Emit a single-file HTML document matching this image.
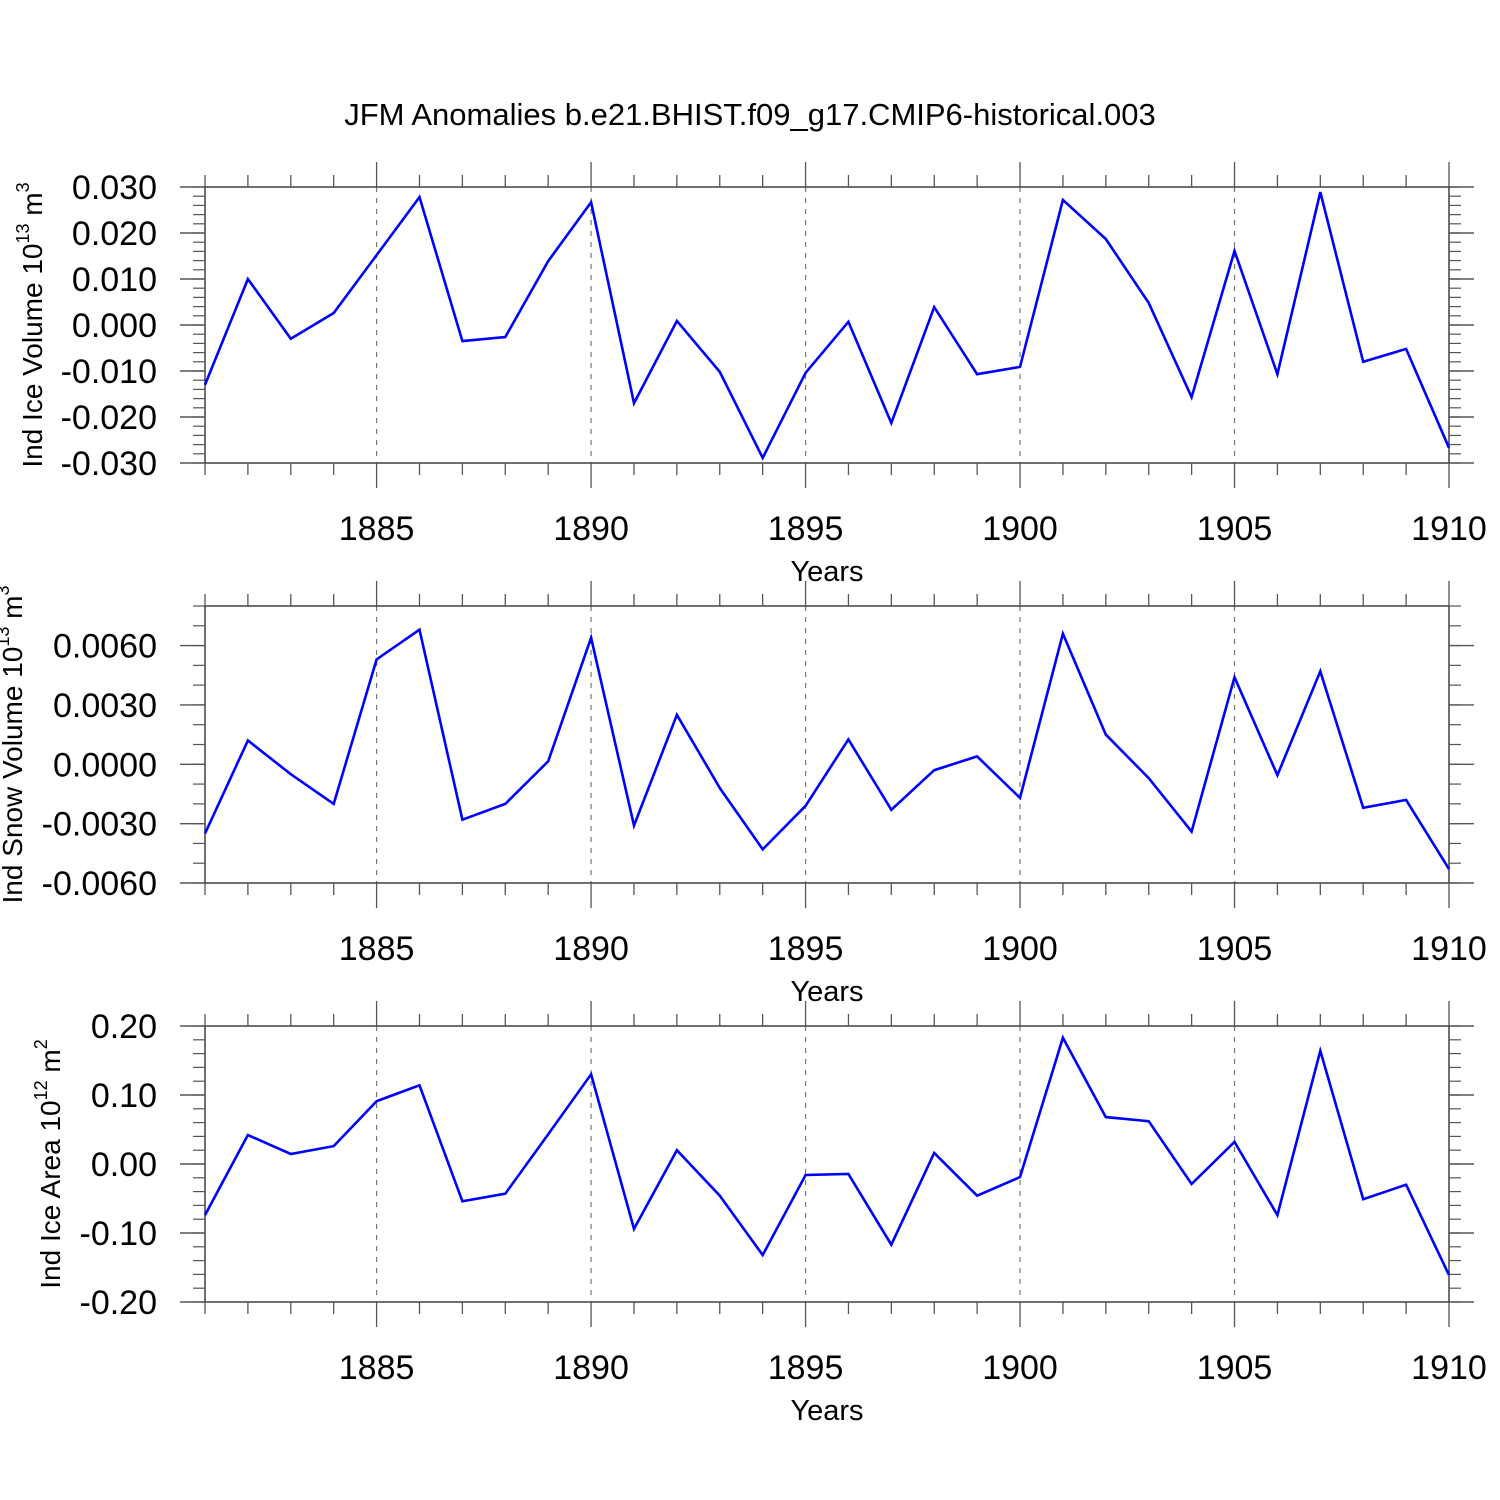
<!DOCTYPE html>
<html><head><meta charset="utf-8"><style>
html,body{margin:0;padding:0;background:#fff;}
svg{display:block;font-family:"Liberation Sans",Arial,sans-serif;}
</style></head><body>
<svg id="chart" width="1500" height="1500" viewBox="0 0 1500 1500" xmlns="http://www.w3.org/2000/svg">
<rect width="1500" height="1500" fill="#fff"/>
<text x="750" y="125" font-size="31" text-anchor="middle">JFM Anomalies b.e21.BHIST.f09_g17.CMIP6-historical.003</text>
</svg>
<script>
const years = [1881,1882,1883,1884,1885,1886,1887,1888,1889,1890,1891,1892,1893,1894,1895,1896,1897,1898,1899,1900,1901,1902,1903,1904,1905,1906,1907,1908,1909,1910];
const xTickLabels = ["1885","1890","1895","1900","1905","1910"];
const iceVolume = [-0.013,0.010,-0.003,0.0026,0.0152,0.0278,-0.0035,-0.0026,0.0139,0.0267,-0.017,0.0009,-0.0102,-0.0289,-0.0104,0.0007,-0.0213,0.0039,-0.0107,-0.0091,0.0272,0.0187,0.0048,-0.0157,0.0161,-0.0107,0.0289,-0.008,-0.0052,-0.0267];
const snowVolume = [-0.0035,0.0012,-0.0005,-0.002,0.0053,0.0068,-0.0028,-0.002,0.00015,0.0064,-0.0031,0.0025,-0.0012,-0.0043,-0.0021,0.00126,-0.0023,-0.0003,0.0004,-0.0017,0.0066,0.0015,-0.0007,-0.0034,0.0044,-0.00055,0.0047,-0.0022,-0.0018,-0.0053];
const iceArea = [-0.074,0.042,0.0145,0.026,0.091,0.114,-0.054,-0.043,0.043,0.130,-0.094,0.020,-0.046,-0.132,-0.016,-0.0145,-0.117,0.016,-0.046,-0.019,0.183,0.068,0.062,-0.029,0.032,-0.074,0.164,-0.051,-0.030,-0.161];
const iceVolTicks = ["0.030","0.020","0.010","0.000","-0.010","-0.020","-0.030"];
const snowTicks = ["0.0060","0.0030","0.0000","-0.0030","-0.0060"];
const areaTicks = ["0.20","0.10","0.00","-0.10","-0.20"];

const NS="http://www.w3.org/2000/svg";
const svg=document.getElementById('chart');
const X0=205,X1=1449;
function xs(y){return X0+(y-1881)/(1910-1881)*(X1-X0);}
function mk(tag,attrs,parent){const e=document.createElementNS(NS,tag);for(const k in attrs)e.setAttribute(k,attrs[k]);(parent||svg).appendChild(e);return e;}

function panel(id,top,bot,ymin,ymax,data,ticks,minorStep,titleMain,titleSup,titleX){
  const g=mk('g',{});
  
  
  const ys=v=>bot-(v-ymin)/(ymax-ymin)*(bot-top);
  for(let y=1885;y<=1905;y+=5){
    const l=mk('line',{x1:xs(y),x2:xs(y),y1:top,y2:bot,stroke:'#777','stroke-width':1.2,'stroke-dasharray':'5,6'},g);
    
    
  }
  const fr=mk('rect',{x:X0,y:top,width:X1-X0,height:bot-top,fill:'none',stroke:'#333','stroke-width':1.4},g);
  
  
  for(let y=1881;y<=1910;y++){
    const len=(y%5===0)?25:12;
    mk('line',{x1:xs(y),x2:xs(y),y1:top,y2:top-len,stroke:'#555','stroke-width':1.3},g);
    mk('line',{x1:xs(y),x2:xs(y),y1:bot,y2:bot+len,stroke:'#555','stroke-width':1.3},g);
  }
  xTickLabels.forEach(s=>{
    const t=mk('text',{x:xs(+s),y:bot+77,'font-size':34,'text-anchor':'middle'},g);
    t.textContent=s;
    
    
  });
  const xt=mk('text',{x:827,y:bot+118,'font-size':29,'text-anchor':'middle'},g);
  xt.textContent='Years';
  
  
  const nMin=Math.round((ymax-ymin)/minorStep);
  for(let i=0;i<=nMin;i++){
    const v=ymin+i*minorStep, py=ys(v);
    mk('line',{x1:X0,x2:X0-12,y1:py,y2:py,stroke:'#555','stroke-width':1.2},g);
    mk('line',{x1:X1,x2:X1+12,y1:py,y2:py,stroke:'#555','stroke-width':1.2},g);
  }
  ticks.forEach(s=>{
    const py=ys(parseFloat(s));
    mk('line',{x1:X0,x2:X0-25,y1:py,y2:py,stroke:'#555','stroke-width':1.4},g);
    mk('line',{x1:X1,x2:X1+25,y1:py,y2:py,stroke:'#555','stroke-width':1.4},g);
    const t=mk('text',{x:157,y:py+12,'font-size':34,'text-anchor':'end'},g);
    t.textContent=s;
    
    
  });
  const cy=(top+bot)/2;
  const yt=mk('text',{x:0,y:0,'font-size':28,'text-anchor':'middle',transform:`translate(${titleX},${cy}) rotate(-90)`},g);
  
  
  const t1=document.createElementNS(NS,'tspan');t1.textContent=titleMain;yt.appendChild(t1);
  const t2=document.createElementNS(NS,'tspan');t2.setAttribute('dy','-13');t2.setAttribute('font-size','18');t2.textContent=titleSup[0];yt.appendChild(t2);
  const t3=document.createElementNS(NS,'tspan');t3.setAttribute('dy','13');t3.textContent=' m';yt.appendChild(t3);
  const t4=document.createElementNS(NS,'tspan');t4.setAttribute('dy','-13');t4.setAttribute('font-size','18');t4.textContent=titleSup[1];yt.appendChild(t4);
  const pts=data.map((v,i)=>xs(years[i]).toFixed(1)+','+ys(v).toFixed(1)).join(' ');
  const pl=mk('polyline',{points:pts,fill:'none',stroke:'#0000ff','stroke-width':2.6,'stroke-linejoin':'miter'},g);
  
  
}
panel('ice-volume',187,463,-0.03,0.03,iceVolume,iceVolTicks,0.002,'Ind Ice Volume 10',['13','3'],42);
panel('snow-volume',606,883,-0.006,0.008,snowVolume,snowTicks,0.001,'Ind Snow Volume 10',['13','3'],22);
panel('ice-area',1026,1302,-0.2,0.2,iceArea,areaTicks,0.02,'Ind Ice Area 10',['12','2'],60);
</script>
</body></html>
